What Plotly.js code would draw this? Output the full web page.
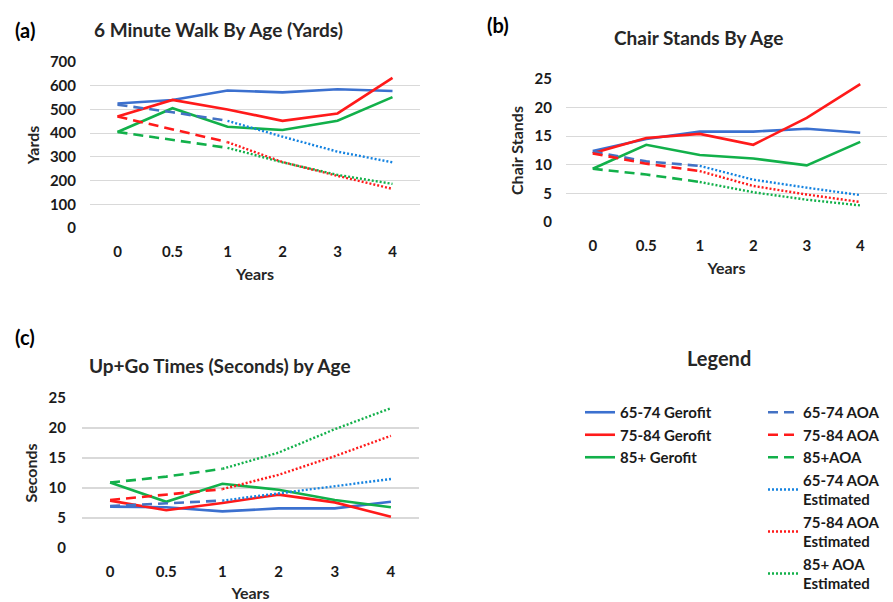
<!DOCTYPE html>
<html>
<head>
<meta charset="utf-8">
<script src="https://cdn.plot.ly/plotly-3.0.1.min.js"></script>
<style>html,body{margin:0;padding:0;background:#fff;}#chart{width:893px;height:602px;}</style>
</head>
<body>
<div id="chart"></div>
<script>
// ---- categories ----
const years = ['0', '0.5', '1', '2', '3', '4'];
const aoaYears = ['0', '0.5', '1'];
const estYears = ['1', '2', '3', '4'];

// ---- (a) 6 Minute Walk (yards) ----
const walkGerofit6574 = [525, 540, 580, 572, 585, 578];
const walkGerofit7584 = [470, 540, 500, 452, 483, 633];
const walkGerofit85 = [405, 505, 427, 413, 452, 552];
const walkAoa6574 = [520, 488, 452];
const walkAoa7584 = [470, 415, 362];
const walkAoa85 = [405, 370, 338];
const walkEst6574 = [452, 385, 322, 277];
const walkEst7584 = [362, 278, 220, 165];
const walkEst85 = [338, 277, 224, 186];

// ---- (b) Chair Stands ----
const chairGerofit6574 = [12.4, 14.5, 15.8, 15.8, 16.3, 15.6];
const chairGerofit7584 = [12.0, 14.7, 15.4, 13.5, 18.2, 24.1];
const chairGerofit85 = [9.3, 13.5, 11.7, 11.1, 9.9, 14.0];
const chairAoa6574 = [12.3, 10.6, 9.8];
const chairAoa7584 = [12.0, 10.2, 8.9];
const chairAoa85 = [9.3, 8.3, 7.0];
const chairEst6574 = [9.8, 7.4, 6.0, 4.7];
const chairEst7584 = [8.9, 6.3, 4.8, 3.5];
const chairEst85 = [7.0, 5.2, 3.9, 2.9];

// ---- (c) Up+Go times (seconds) ----
const upgoGerofit6574 = [6.9, 6.8, 6.1, 6.6, 6.6, 7.7];
const upgoGerofit7584 = [7.9, 6.3, 7.5, 8.9, 7.6, 5.2];
const upgoGerofit85 = [10.9, 7.7, 10.7, 9.7, 8.0, 6.8];
const upgoAoa6574 = [7.0, 7.5, 7.9];
const upgoAoa7584 = [8.0, 8.9, 9.8];
const upgoAoa85 = [10.9, 11.9, 13.2];
const upgoEst6574 = [7.9, 9.1, 10.4, 11.5];
const upgoEst7584 = [9.8, 12.2, 15.3, 18.7];
const upgoEst85 = [13.2, 15.9, 19.8, 23.3];

// ---- series names ----
const gerofitNames = ['65-74 Gerofit', '75-84 Gerofit', '85+ Gerofit'];
const aoaNames = ['65-74 AOA', '75-84 AOA', '85+AOA'];
const estNames = ['65-74 AOA<br>Estimated', '75-84 AOA<br>Estimated', '85+ AOA<br>Estimated'];

const W = 893, H = 602;
const FONT = 'Lato, "Open Sans", sans-serif';
const solidColors = ['#3b70cf', '#ff1a1a', '#12b04a'];
const dashColors = ['#4472c4', '#ff1a1a', '#12b04a'];
const dotColors = ['#1583e0', '#ff1a1a', '#12b04a'];

const traces = [];
function addPanel(ax, gerofit, aoa, est, showLegend) {
  const xa = 'x' + ax, ya = 'y' + ax;
  gerofit.forEach((v, i) => traces.push({
    type: 'scatter', mode: 'lines', x: years, y: v, xaxis: xa, yaxis: ya,
    name: gerofitNames[i], legend: 'legend', showlegend: showLegend,
    line: {color: solidColors[i], width: 2.6}
  }));
  aoa.forEach((v, i) => traces.push({
    type: 'scatter', mode: 'lines', x: aoaYears, y: v, xaxis: xa, yaxis: ya,
    name: aoaNames[i], legend: 'legend2', showlegend: showLegend, legendrank: i + 1,
    line: {color: dashColors[i], width: 2.6, dash: '10px,6px'}
  }));
  est.forEach((v, i) => traces.push({
    type: 'scatter', mode: 'lines', x: estYears, y: v, xaxis: xa, yaxis: ya,
    name: estNames[i], legend: 'legend2', showlegend: showLegend, legendrank: i + 4,
    line: {color: dotColors[i], width: 2.4, dash: '2px,2px'}
  }));
}
addPanel('', [walkGerofit6574, walkGerofit7584, walkGerofit85],
  [walkAoa6574, walkAoa7584, walkAoa85], [walkEst6574, walkEst7584, walkEst85], true);
addPanel('2', [chairGerofit6574, chairGerofit7584, chairGerofit85],
  [chairAoa6574, chairAoa7584, chairAoa85], [chairEst6574, chairEst7584, chairEst85], false);
addPanel('3', [upgoGerofit6574, upgoGerofit7584, upgoGerofit85],
  [upgoAoa6574, upgoAoa7584, upgoAoa85], [upgoEst6574, upgoEst7584, upgoEst85], false);

const tickFont = {family: FONT, size: 15, color: '#1a1a1a', weight: 700};
const axTitleFont = {family: FONT, size: 16, color: '#262626', weight: 700};

function px(x) { return x / W; }
function py(y) { return 1 - y / H; }

function xAxis(l, r, anchor, standoff) {
  return {
    domain: [px(l), px(r)], anchor: anchor, type: 'category',
    categoryorder: 'array', categoryarray: years,
    range: [-0.5, 5.5], showgrid: false, zeroline: false, showline: false,
    ticks: '', tickfont: tickFont, ticklabelstandoff: standoff,
    title: {text: 'Years', font: axTitleFont, standoff: 9},
    fixedrange: true, automargin: false
  };
}
function yAxis(b, t, anchor, range, dtick, title, standoff, tstand) {
  return {
    domain: [py(b), py(t)], anchor: anchor, range: range, dtick: dtick,
    showgrid: true, gridcolor: '#d9d9d9', gridwidth: 1.2,
    zeroline: false, showline: false, ticks: '', tickfont: tickFont,
    ticklabelstandoff: standoff,
    title: {text: title, font: axTitleFont, standoff: tstand},
    fixedrange: true, automargin: false
  };
}

const titleFont = {family: FONT, size: 19, color: '#262626', weight: 700};
const labelFont = {family: FONT, size: 20, color: '#000', weight: 700};

const layout = {
  width: W, height: H,
  margin: {l: 0, r: 0, t: 0, b: 0},
  paper_bgcolor: '#fff', plot_bgcolor: '#fff',
  font: {family: FONT},
  xaxis: xAxis(90, 420, 'y', 13),
  yaxis: yAxis(228, 62, 'x', [0, 700], 100, 'Yards', 13, 6),
  xaxis2: xAxis(566, 887, 'y2', 13),
  yaxis2: yAxis(222, 79, 'x2', [0, 25], 5, 'Chair Stands', 13, 6),
  xaxis3: xAxis(82, 419, 'y3', 13),
  yaxis3: yAxis(548, 398, 'x3', [0, 25], 5, 'Seconds', 15, 6),
  showlegend: true,
  legend: {
    x: px(580), y: py(396), xanchor: 'left', yanchor: 'top',
    bgcolor: 'rgba(0,0,0,0)', borderwidth: 0, traceorder: 'normal',
    font: {family: FONT, size: 15, color: '#1a1a1a', weight: 700},
    itemwidth: 30, tracegroupgap: 0
  },
  legend2: {
    x: px(763), y: py(396), xanchor: 'left', yanchor: 'top',
    bgcolor: 'rgba(0,0,0,0)', borderwidth: 0, traceorder: 'normal',
    font: {family: FONT, size: 15, color: '#1a1a1a', weight: 700},
    itemwidth: 30, tracegroupgap: 0
  },
  annotations: [
    {text: '(a)', x: px(13), y: py(30), xref: 'paper', yref: 'paper', xanchor: 'left', yanchor: 'middle', showarrow: false, font: labelFont},
    {text: '(b)', x: px(485), y: py(25), xref: 'paper', yref: 'paper', xanchor: 'left', yanchor: 'middle', showarrow: false, font: labelFont},
    {text: '(c)', x: px(13), y: py(337), xref: 'paper', yref: 'paper', xanchor: 'left', yanchor: 'middle', showarrow: false, font: labelFont},
    {text: '6 Minute Walk By Age (Yards)', x: px(218), y: py(30), xref: 'paper', yref: 'paper', xanchor: 'center', yanchor: 'middle', showarrow: false, font: titleFont},
    {text: 'Chair Stands By Age', x: px(698), y: py(38), xref: 'paper', yref: 'paper', xanchor: 'center', yanchor: 'middle', showarrow: false, font: titleFont},
    {text: 'Up+Go Times (Seconds) by Age', x: px(220), y: py(365), xref: 'paper', yref: 'paper', xanchor: 'center', yanchor: 'middle', showarrow: false, font: titleFont},
    {text: 'Legend', x: px(719), y: py(358), xref: 'paper', yref: 'paper', xanchor: 'center', yanchor: 'middle', showarrow: false, font: {family: FONT, size: 20, color: '#262626', weight: 700}}
  ]
};

Plotly.newPlot('chart', traces, layout, {staticPlot: true, displayModeBar: false});
</script>
</body>
</html>
